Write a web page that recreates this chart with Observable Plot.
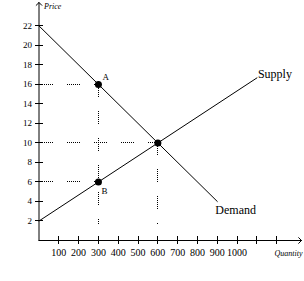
<!DOCTYPE html>
<html><head><meta charset="utf-8">
<script src="https://cdn.jsdelivr.net/npm/d3@7"></script>
<script src="https://cdn.jsdelivr.net/npm/@observablehq/plot@0.6"></script>
<style>body{margin:0;background:#fff}</style>
</head><body><div id="chart"></div>
<script>
const priceTicks = [2,4,6,8,10,12,14,16,18,20,22];
const qtyTicks = [100,200,300,400,500,600,700,800,900,1000];
const qtyExtraTicks = [1100,1200];
const demand = [{q:0,p:22},{q:900,p:4}];
const supply = [{q:0,p:2},{q:1100,p:16.67}];
const points = [{q:300,p:16,label:"A"},{q:600,p:10,label:""},{q:300,p:6,label:"B"}];
const hGuides = [{p:16,q:300},{p:10,q:600},{p:6,q:300}];
const vGuides = [{q:300,p:16},{q:600,p:10}];
const qMax = 1325, pMax = 24.4, guideStartQ = 8, guideEndP = 1.5;

const dash = "1,1,1,1,1,1,1,1,1,1,1,1,1,14";
const crisp = {shapeRendering: "crispEdges"};
const chart = Plot.plot({
  width: 304, height: 281,
  marginLeft: 38.5, marginRight: 3, marginTop: 2, marginBottom: 41,
  x: {domain: [0, qMax], axis: null},
  y: {domain: [0, pMax], axis: null},
  style: {fontFamily: "Liberation Serif", background: "#fff", color: "#000"},
  marks: [
    Plot.ruleY(hGuides, {y: "p", x1: guideStartQ, x2: "q", stroke: "#000", strokeDasharray: dash, ...crisp}),
    Plot.ruleX(vGuides, {x: "q", y1: "p", y2: guideEndP, stroke: "#000", strokeDasharray: dash, ...crisp}),
    Plot.arrow([{}], {x1: 0, y1: 0, x2: 0, y2: pMax, stroke: "#000", headLength: 6, headAngle: 90, strokeWidth: 1}),
    Plot.arrow([{}], {x1: 0, y1: 0, x2: qMax, y2: 0, stroke: "#000", headLength: 6, headAngle: 90, strokeWidth: 1}),
    Plot.ruleY(priceTicks, {y: d => d, x1: 0, x2: 0, insetLeft: -4, insetRight: -4, stroke: "#000", ...crisp}),
    Plot.ruleX(qtyTicks.concat(qtyExtraTicks), {x: d => d, y1: 0, y2: 0, insetTop: -4, insetBottom: -4, stroke: "#000", ...crisp}),
    Plot.text(priceTicks, {x: 0, y: d => d, text: d => String(d), dx: -7, textAnchor: "end", fontSize: 9, fill: "#000"}),
    Plot.text(qtyTicks, {x: d => d, y: 0, text: d => String(d), dy: 12, fontSize: 10, fill: "#000"}),
    Plot.line(demand, {x: "q", y: "p", stroke: "#000", strokeWidth: 1}),
    Plot.line(supply, {x: "q", y: "p", stroke: "#000", strokeWidth: 1}),
    Plot.dot(points, {x: "q", y: "p", r: 3.5, fill: "#000", stroke: "none"}),
    Plot.text(points.filter(d => d.label === "A"), {x: "q", y: "p", text: "label", dx: 4, dy: -7, textAnchor: "start", fontSize: 9, fill: "#000"}),
    Plot.text(points.filter(d => d.label === "B"), {x: "q", y: "p", text: "label", dx: 3, dy: 9, textAnchor: "start", fontSize: 9, fill: "#000"}),
    Plot.text(supply.slice(-1), {x: "q", y: "p", text: () => "Supply", dx: 1, dy: -4, textAnchor: "start", fontSize: 12, fill: "#000"}),
    Plot.text(demand.slice(-1), {x: "q", y: "p", text: () => "Demand", dx: -2, dy: 9, textAnchor: "start", fontSize: 12, fill: "#000"}),
    Plot.text([{}], {x: 0, y: pMax, text: () => "Price", dx: 5, dy: 4, textAnchor: "start", fontSize: 8, fontStyle: "italic", fill: "#000"}),
    Plot.text([{}], {x: qMax, y: 0, text: () => "Quantity", dx: 1, dy: 13, textAnchor: "end", fontSize: 8, fontStyle: "italic", fill: "#000"})
  ]
});
document.getElementById("chart").append(chart);
</script>
</body></html>
